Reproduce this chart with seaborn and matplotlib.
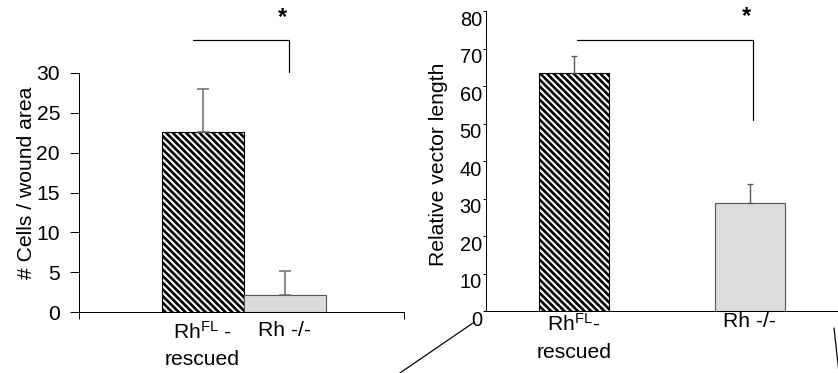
import matplotlib
matplotlib.use("Agg")
import matplotlib.pyplot as plt
from matplotlib.lines import Line2D
from matplotlib.transforms import ScaledTranslation
import seaborn as sns

# ---- data -------------------------------------------------------------
groups = ["Rh$^{\\mathrm{FL}}$ -\nrescued", "Rh -/-"]
groups_b = ["Rh$^{\\mathrm{FL}}$-\nrescued", "Rh -/-"]

cells_mean = [22.6, 2.1]
cells_err = [5.4, 3.0]          # upper error only

vector_mean = [63.5, 28.8]
vector_err = [4.4, 5.0]

cells_ticks = [0, 5, 10, 15, 20, 25, 30]
vector_ticks = [0, 10, 20, 30, 40, 50, 60, 70, 80]

# ---- style ------------------------------------------------------------
sns.set_theme(style="ticks")
plt.rcParams["font.family"] = ["Liberation Sans", "DejaVu Sans"]
plt.rcParams["mathtext.fontset"] = "custom"
plt.rcParams["mathtext.rm"] = "Liberation Sans"
plt.rcParams["mathtext.it"] = "Liberation Sans:italic"
plt.rcParams["mathtext.bf"] = "Liberation Sans:bold"
plt.rcParams["hatch.linewidth"] = 2.4
plt.rcParams["axes.linewidth"] = 0.9
for key in ["text.color", "axes.labelcolor", "xtick.color", "ytick.color",
            "axes.edgecolor"]:
    plt.rcParams[key] = "black"

DPI = 80
W, H = 838, 373
fig = plt.figure(figsize=(W / DPI, H / DPI), dpi=DPI)
FS = 19

bar_colors = ["white", "#dcdcdc"]
edge_colors = ["black", "#555555"]


def style_bars(ax):
    for i, (p, ec) in enumerate(zip(ax.patches, edge_colors)):
        p.set_edgecolor(ec)
        p.set_linewidth(1.0)
        if i == 0:
            p.set_hatch("\\\\\\\\")


def space_lines(ax, spacing):
    for lab in ax.get_xticklabels():
        lab.set_linespacing(spacing)


# ---- left panel: cells per wound area --------------------------------
axL = fig.add_axes([79 / W, 1 - 312 / H, 325 / W, 239 / H])
sns.barplot(x=groups, y=cells_mean, hue=groups, palette=bar_colors,
            width=1.0, legend=False, ax=axL, saturation=1)
style_bars(axL)
axL.errorbar([0, 1], cells_mean, yerr=[[0, 0], cells_err], fmt="none",
             ecolor="#6a6a6a", elinewidth=1.4, capsize=5, capthick=1.4,
             zorder=1)
axL.set_xlim(-1.506, 2.457)
axL.set_ylim(0, 30)
axL.set_yticks(cells_ticks)
axL.tick_params(axis="y", labelsize=FS, length=8, width=0.9, pad=9)
axL.tick_params(axis="x", which="major", labelsize=FS, length=0, pad=8)
axL.set_xticks([-1.506, 2.457], minor=True)
axL.tick_params(axis="x", which="minor", length=6.5, width=0.9,
                direction="out")
space_lines(axL, 1.45)
sns.despine(ax=axL)
axL.set_ylabel("# Cells / wound area", fontsize=FS)
axL.yaxis.set_label_coords(-0.131, 0.542)
axL.set_xlabel("")

# significance bracket and star
axL.plot([-0.116, 1.055, 1.055], [34.1, 34.1, 30.1], color="black",
         lw=1.1, clip_on=False)
axL.text(0.973, 36.2, "*", fontsize=FS + 2, fontweight="bold",
         ha="center", va="baseline", clip_on=False)

# ---- right panel: relative vector length ------------------------------
axR = fig.add_axes([486 / W, 1 - 311.3 / H, 353 / W, 300.3 / H])
sns.barplot(x=groups_b, y=vector_mean, hue=groups_b, palette=bar_colors,
            width=0.4, legend=False, ax=axR, saturation=1)
style_bars(axR)
axR.errorbar([0, 1], vector_mean, yerr=[[0, 0], vector_err], fmt="none",
             ecolor="#555555", elinewidth=1.2, capsize=2.6, capthick=1.2,
             zorder=1)
axR.set_xlim(-0.5, 1.506)
axR.set_ylim(0, 80)
axR.set_yticks(vector_ticks)
axR.tick_params(axis="y", labelsize=18, length=2.7, width=0.9, pad=1)
axR.tick_params(axis="x", labelsize=FS, length=0, pad=1)
space_lines(axR, 1.55)
sns.despine(ax=axR)
shift = ScaledTranslation(0, -7 / DPI, fig.dpi_scale_trans)
for lab in axR.get_yticklabels():
    lab.set_transform(lab.get_transform() + shift)
axR.set_ylabel("Relative vector length", fontsize=FS)
axR.yaxis.set_label_coords(-0.108, 0.489)
axR.set_xlabel("")

axR.plot([0.017, 1.019, 1.019], [72.3, 72.3, 50.9], color="black",
         lw=1.1, clip_on=False)
axR.text(0.981, 76.9, "*", fontsize=FS + 2, fontweight="bold",
         ha="center", va="baseline", clip_on=False)

# ---- connector strokes at the bottom ----------------------------------
for (x0, y0), (x1, y1) in [((397, 375), (473, 323)), ((834, 328), (839, 373))]:
    fig.add_artist(Line2D([x0 / W, x1 / W], [1 - y0 / H, 1 - y1 / H],
                          transform=fig.transFigure, color="black", lw=1.1))

fig.savefig("out.png", dpi=DPI)
